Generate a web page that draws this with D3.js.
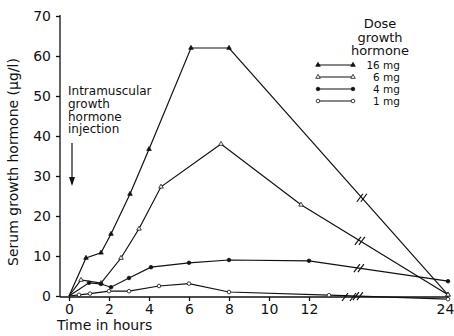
<!DOCTYPE html>
<html>
<head>
<meta charset="utf-8">
<script src="https://cdn.jsdelivr.net/npm/d3@7"></script>
<style>
body { margin: 0; background: #fff; }
text { font-family: "DejaVu Sans", sans-serif; fill: #111; }
.axis path, .axis line { stroke: #111; stroke-width: 1.3; }
.axis text { font-size: 14px; }
</style>
</head>
<body>
<div id="gr"></div>
<script>
// hours after injection, serum GH (ug/l) per dose
var hours16 = [0, 0.85, 1.6, 2.1, 3.05, 4, 6.1, 8, 24];
var gh16 = [0, 9.5, 10.8, 15.5, 25.5, 36.7, 62, 62, 0.3];

var hours6 = [0, 0.6, 1.6, 2.6, 3.5, 4.6, 7.6, 11.6, 24];
var gh6 = [0, 4, 3.2, 9.5, 16.8, 27.3, 38, 22.8, 0.3];

var hours4 = [0, 1, 1.6, 2.1, 3, 4.1, 6, 8, 12, 24];
var gh4 = [0, 3.3, 3, 2.2, 4.5, 7.2, 8.3, 9, 8.8, 3.7];

var hours1 = [0, 0.5, 1.05, 2, 3, 4.5, 6, 8, 13, 24];
var gh1 = [0, 0.3, 0.6, 1.2, 1.2, 2.5, 3.1, 1, 0.2, -0.8];

var doses = ["16 mg", "6 mg", "4 mg", "1 mg"];
var xTicks = [0, 2, 4, 6, 8, 10, 12, 24];
var yTicks = [0, 10, 20, 30, 40, 50, 60, 70];

var width = 454,
height = 336;

var svg = d3.select("#gr").append("svg").
attr("width", width).
attr("height", height);

// broken time axis: linear to ~14 h, squeezed to 24 h
var xScale = d3.scaleLinear().domain([0, 14, 24]).range([69, 349, 448]);
var yScale = d3.scaleLinear().domain([0, 70]).range([296, 16]);

var yAxis = d3.axisLeft(yScale).tickValues(yTicks).tickSize(4).tickPadding(5).tickFormat(d3.format("d"));
var xAxis = d3.axisBottom(xScale).tickValues(xTicks).tickSize(4).tickPadding(3).tickFormat(d3.format("d"));

svg.append("g").
attr("class", "axis").
attr("transform", "translate(60,0)").
call(yAxis).
call(function (g) {g.select(".domain").attr("d", "M0,15V297");});

svg.append("g").
attr("class", "axis").
attr("transform", "translate(0,297)").
call(xAxis).
call(function (g) {
  g.select(".domain").attr("d", "M60,0H448");
  g.selectAll(".tick text").filter(function (d) {return d == 24;}).attr("dx", -3);
});

// break marks on the x axis
[13.8, 14.4].forEach(function (h) {
  var bx = xScale(h);
  svg.append("line").attr("x1", bx - 3).attr("y1", 301).attr("x2", bx + 3).attr("y2", 293).
  attr("stroke", "#111").attr("stroke-width", 1.2);
});

svg.append("text").
attr("transform", "translate(18,162) rotate(-90)").
attr("text-anchor", "middle").
style("font-size", "14px").
text("Serum growth hormone (\u00b5g/l)");

svg.append("text").
attr("x", 57).
attr("y", 330).
style("font-size", "14px").
text("Time in hours");

// injection annotation
var ann = ["Intramuscular", "growth", "hormone", "injection"];
svg.selectAll(".ann").data(ann).enter().append("text").
attr("class", "ann").
attr("x", 68).
attr("y", function (d, i) {return 95 + i * 12.8;}).
style("font-size", "12px").
text(function (d) {return d;});

svg.append("line").attr("x1", 72).attr("y1", 143).attr("x2", 72).attr("y2", 184).
attr("stroke", "#111").attr("stroke-width", 1.2);
svg.append("path").attr("d", "M69,177L72,186L75,177Z").attr("fill", "#111");

var series = [
{ name: doses[0], hours: hours16, gh: gh16, shape: "tri", fill: "#111", brk: 15.3 },
{ name: doses[1], hours: hours6, gh: gh6, shape: "tri", fill: "#fff", brk: 15.1 },
{ name: doses[2], hours: hours4, gh: gh4, shape: "dot", fill: "#111", brk: 15 },
{ name: doses[3], hours: hours1, gh: gh1, shape: "dot", fill: "#fff", brk: 14.9 }];


var line = d3.line().
x(function (d) {return xScale(d[0]);}).
y(function (d) {return yScale(d[1]);});

var tri = d3.symbol().type(d3.symbolTriangle).size(9);

function marker(g, s, x, y) {
  if (s.shape == "tri") {
    g.append("path").
    attr("d", tri).
    attr("transform", "translate(" + x + "," + y + ")").
    attr("fill", s.fill).attr("stroke", "#111").attr("stroke-width", 0.8);
  } else {
    g.append("circle").
    attr("cx", x).attr("cy", y).attr("r", 1.8).
    attr("fill", s.fill).attr("stroke", "#111").attr("stroke-width", 0.8);
  }
}

series.forEach(function (s) {
  var pts = s.hours.map(function (h, i) {return [h, s.gh[i]];});
  svg.append("path").
  datum(pts).
  attr("fill", "none").
  attr("stroke", "#111").
  attr("stroke-width", 1.2).
  attr("d", line);

  // double slash on the last segment (interpolated in pixel space)
  var a = pts[pts.length - 2],b = pts[pts.length - 1];
  var ax = xScale(a[0]),ay = yScale(a[1]),cx = xScale(b[0]),cy = yScale(b[1]);
  var bx = xScale(s.brk);
  var by = ay + (bx - ax) / (cx - ax) * (cy - ay);
  [-2, 2].forEach(function (o) {
    svg.append("line").
    attr("x1", bx + o - 3).attr("y1", by + 4).
    attr("x2", bx + o + 3).attr("y2", by - 4).
    attr("stroke", "#111").attr("stroke-width", 1.2);
  });

  var g = svg.append("g");
  pts.slice(1).forEach(function (p) {
    marker(g, s, xScale(p[0]), yScale(p[1]));
  });
});

// legend
var lg = svg.append("g");
["Dose", "growth", "hormone"].forEach(function (t, i) {
  lg.append("text").attr("x", 380).attr("y", 28 + i * 13.5).
  attr("text-anchor", "middle").style("font-size", "13px").text(t);
});
var legY = [65, 77, 89, 101];
series.forEach(function (s, i) {
  lg.append("line").attr("x1", 318).attr("x2", 353).attr("y1", legY[i]).attr("y2", legY[i]).
  attr("stroke", "#111").attr("stroke-width", 1.2);
  [318, 353].forEach(function (lx) {marker(lg, s, lx, legY[i]);});
  lg.append("text").attr("x", 400).attr("y", legY[i] + 4).
  attr("text-anchor", "end").style("font-size", "10.5px").text(s.name);
});
</script>
</body>
</html>
